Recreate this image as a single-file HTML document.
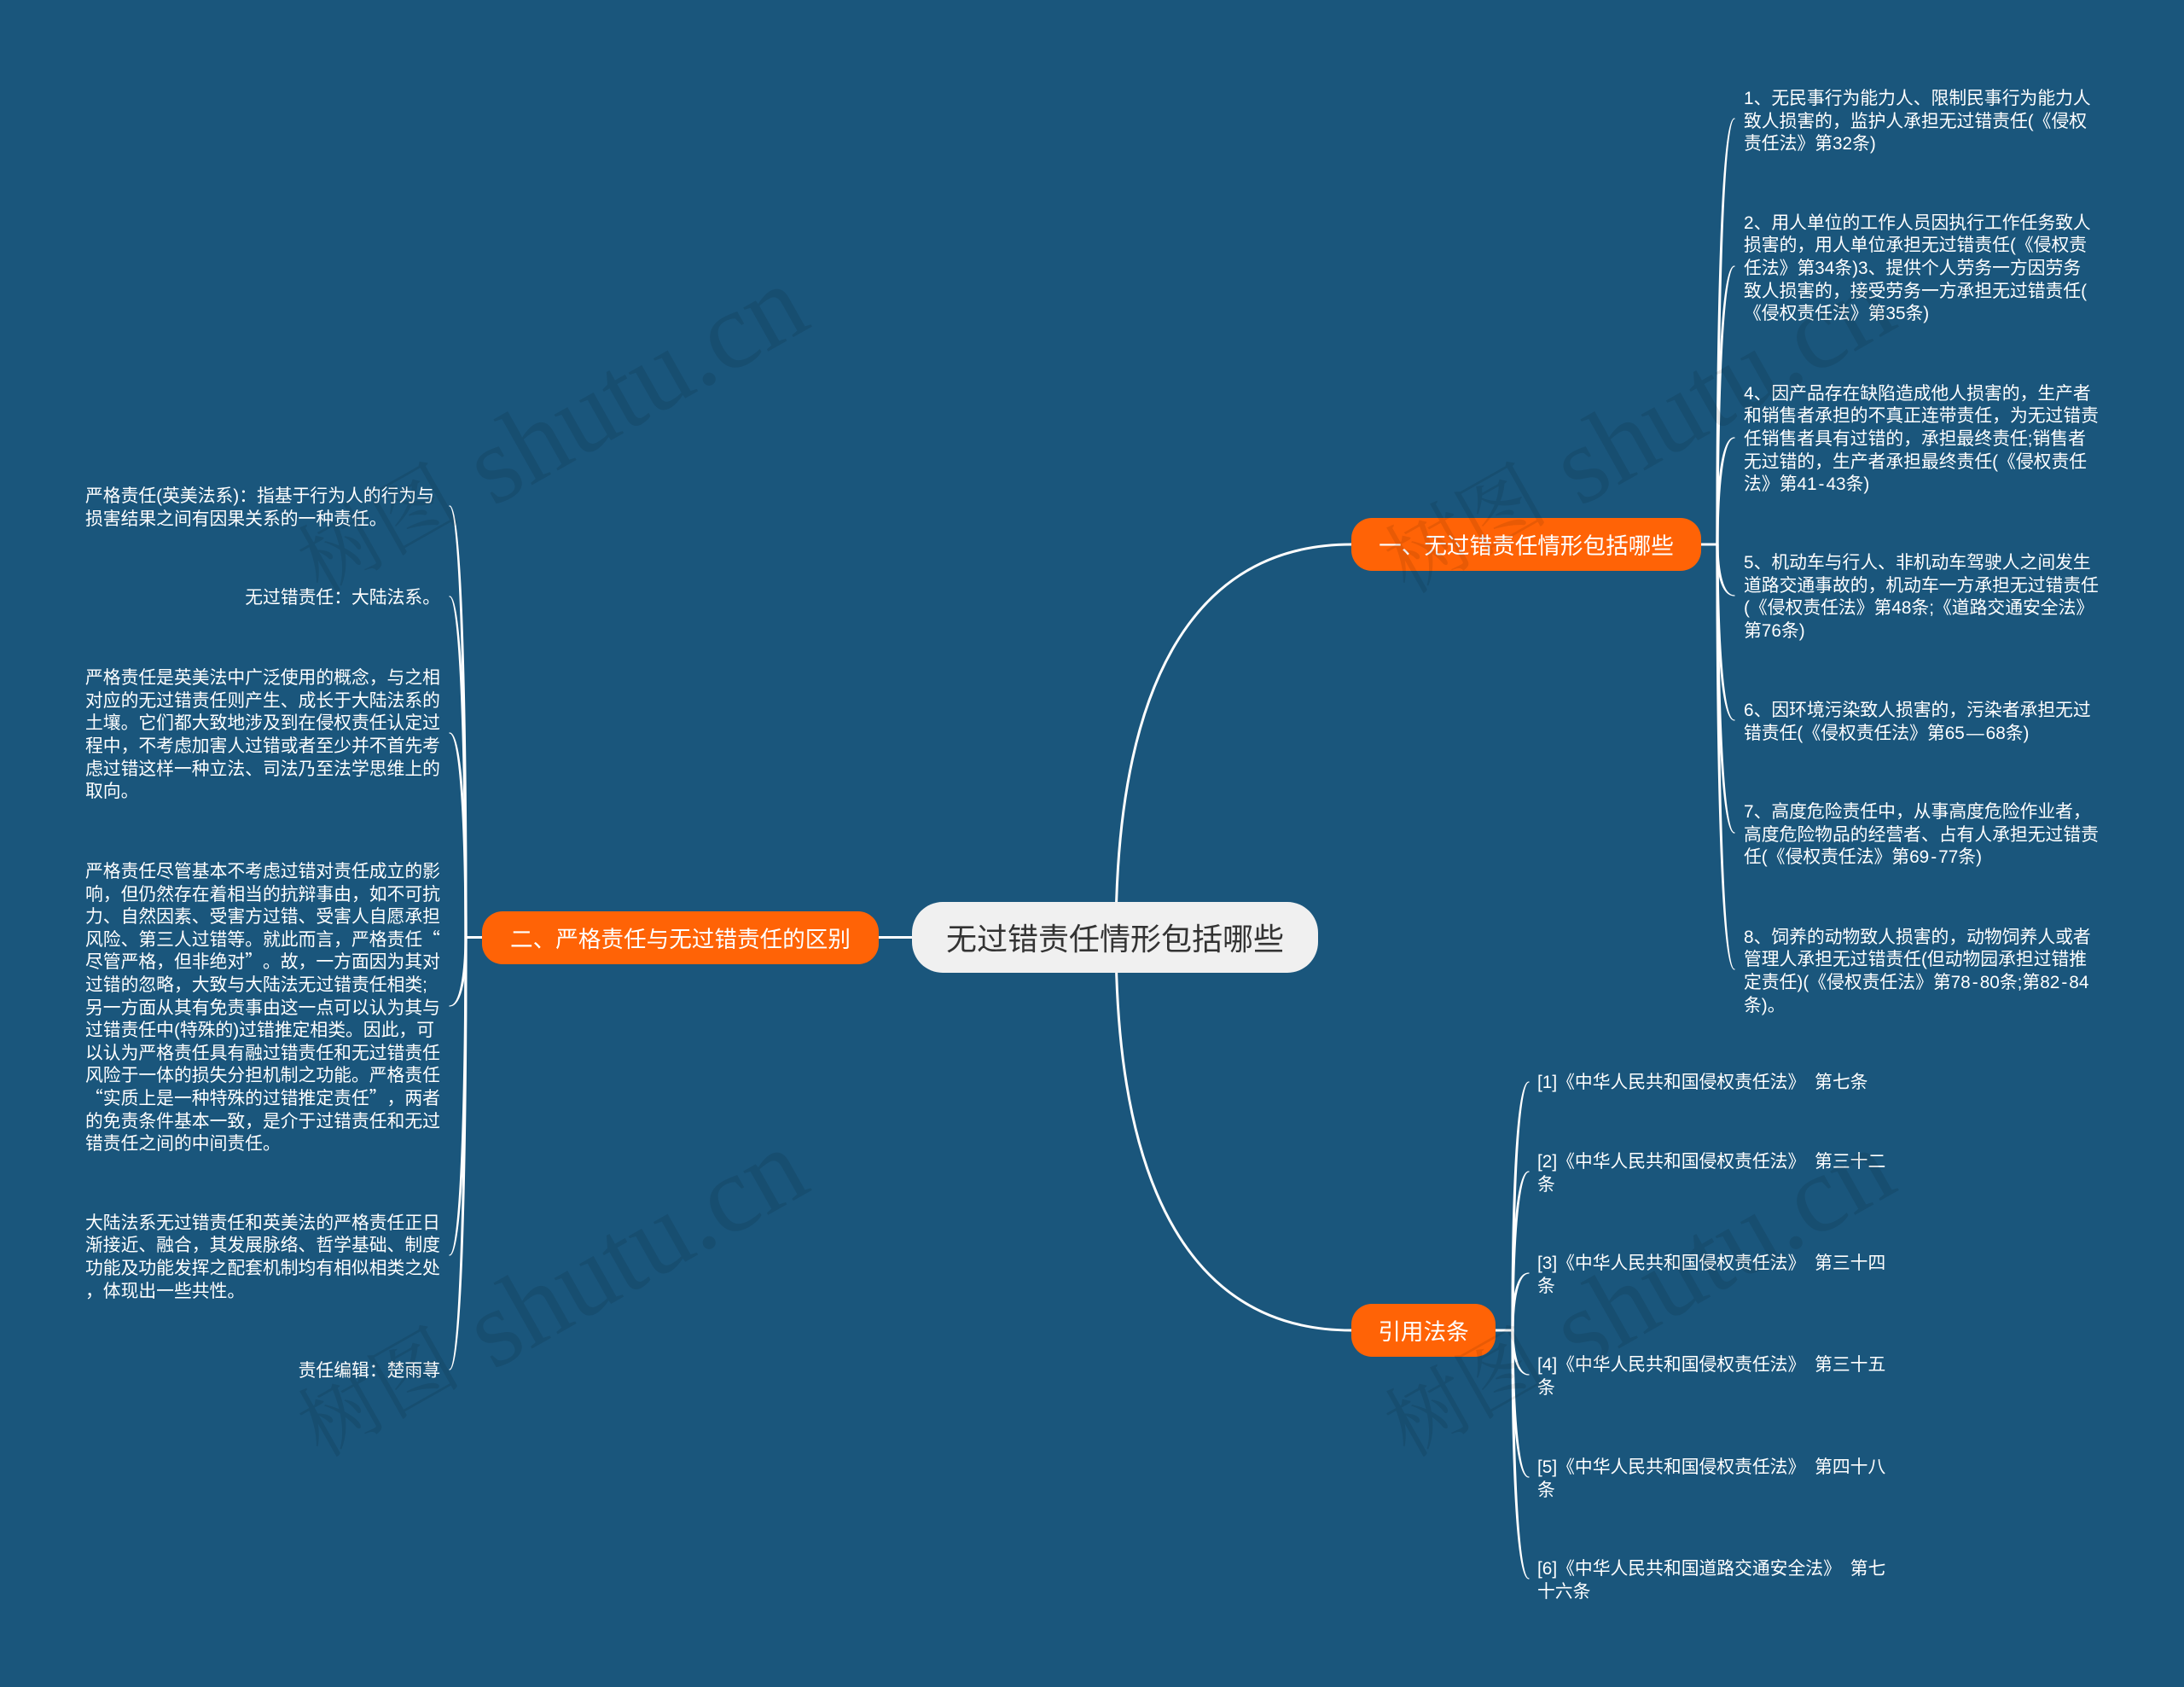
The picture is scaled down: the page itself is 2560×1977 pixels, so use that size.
<!DOCTYPE html>
<html lang="zh-CN">
<head>
<meta charset="utf-8">
<title>无过错责任情形包括哪些</title>
<style>
html,body{margin:0;padding:0;background:#1a567c;}
#c{position:relative;width:2560px;height:1977px;overflow:hidden;background:#1a567c;font-family:"Liberation Sans","Noto Sans CJK SC",sans-serif;text-spacing-trim:space-all;}
svg{position:absolute;left:0;top:0;}
.t{position:absolute;color:#fff;font-size:20.8px;line-height:26.6px;white-space:nowrap;margin-top:3px;}
.q{font-family:"Noto Sans CJK SC",sans-serif;line-height:0;}
.h{padding:0 2px;}
.l{left:100px;width:416px;}
.r{left:100px;width:416px;text-align:right;}
.g{left:2044px;}
.f{left:1802px;word-spacing:5px;}
.n{position:absolute;display:flex;align-items:center;justify-content:center;white-space:nowrap;color:#fff;background:#ff6306;font-size:26.6px;height:62px;border-radius:24px;box-sizing:border-box;padding-bottom:2px;}
.m{position:absolute;left:1069px;top:1057px;width:476px;height:83px;border-radius:36px;background:#f0f0f0;color:#333;font-size:36px;display:flex;align-items:center;justify-content:center;white-space:nowrap;box-sizing:border-box;padding-bottom:2px;}
.wm text{font-family:"Liberation Serif","Noto Serif CJK SC",serif;fill:rgba(0,0,0,.09);}
</style>
</head>
<body>
<div id="c">
<svg width="2560" height="1977" viewBox="0 0 2560 1977" fill="none">
<g stroke="#fff" stroke-width="3">
<path d="M1308 1098C1308 800 1400 638 1584 638"/>
<path d="M1308 1098C1308 1397 1400 1559 1584 1559"/>
<path d="M1030 1098.500H1069"/>
<path d="M1994 638H2013"/>
<path d="M1753 1559H1773"/>
<path d="M546 1098.500H565"/>
</g>
<g fill="#fff" stroke="#fff" stroke-width="1.200" stroke-linejoin="round">
<path d="M2012 638C2012 388 2017 139 2033 139C2019 139 2014 388 2014 638Z"/>
<path d="M2012 638C2012 475 2017 312 2033 312C2019 312 2014 475 2014 638Z"/>
<path d="M2012 638C2012 575 2017 513 2033 513C2019 513 2014 575 2014 638Z"/>
<path d="M2012 638C2012 668 2017 698 2033 698C2019 698 2014 668 2014 638Z"/>
<path d="M2012 638C2012 741 2017 844 2033 844C2019 844 2014 741 2014 638Z"/>
<path d="M2012 638C2012 807 2017 976 2033 976C2019 976 2014 807 2014 638Z"/>
<path d="M2012 638C2012 887 2017 1136 2033 1136C2019 1136 2014 887 2014 638Z"/>

<path d="M1772 1559C1772 1413 1777 1268 1792 1268C1779 1268 1774 1413 1774 1559Z"/>
<path d="M1772 1559C1772 1466 1777 1373 1792 1373C1779 1373 1774 1466 1774 1559Z"/>
<path d="M1772 1559C1772 1525 1777 1492 1792 1492C1779 1492 1774 1525 1774 1559Z"/>
<path d="M1772 1559C1772 1585 1777 1611 1792 1611C1779 1611 1774 1585 1774 1559Z"/>
<path d="M1772 1559C1772 1645 1777 1731 1792 1731C1779 1731 1774 1645 1774 1559Z"/>
<path d="M1772 1559C1772 1704 1777 1850 1792 1850C1779 1850 1774 1704 1774 1559Z"/>

<path d="M547 1098C547 845 542 593 527 593C540 593 545 845 545 1098Z"/>
<path d="M547 1098C547 898 542 699 527 699C540 699 545 898 545 1098Z"/>
<path d="M547 1098C547 978 542 859 527 859C540 859 545 978 545 1098Z"/>
<path d="M547 1098C547 1138 542 1179 527 1179C540 1179 545 1138 545 1098Z"/>
<path d="M547 1098C547 1284 542 1471 527 1471C540 1471 545 1284 545 1098Z"/>
<path d="M547 1098C547 1351 542 1605 527 1605C540 1605 545 1351 545 1098Z"/>
</g>
</svg>

<div class="m">无过错责任情形包括哪些</div>
<div class="n" style="left:1584px;top:607px;width:410px;">一、无过错责任情形包括哪些</div>
<div class="n" style="left:565px;top:1068px;width:465px;">二、严格责任与无过错责任的区别</div>
<div class="n" style="left:1584px;top:1528px;width:169px;">引用法条</div>

<div class="t g" style="top:100.100px">1、无民事行为能力人、限制民事行为能力人<br>致人损害的，监护人承担无过错责任(《侵权<br>责任法》第32条)</div>
<div class="t g" style="top:245.800px">2、用人单位的工作人员因执行工作任务致人<br>损害的，用人单位承担无过错责任(《侵权责<br>任法》第34条)3、提供个人劳务一方因劳务<br>致人损害的，接受劳务一方承担无过错责任(<br>《侵权责任法》第35条)</div>
<div class="t g" style="top:445.800px">4、因产品存在缺陷造成他人损害的，生产者<br>和销售者承担的不真正连带责任，为无过错责<br>任销售者具有过错的，承担最终责任;销售者<br>无过错的，生产者承担最终责任(《侵权责任<br>法》第41<span class="h">-</span>43条)</div>
<div class="t g" style="top:644.100px">5、机动车与行人、非机动车驾驶人之间发生<br>道路交通事故的，机动车一方承担无过错责任<br>(《侵权责任法》第48条;《道路交通安全法》<br>第76条)</div>
<div class="t g" style="top:817.400px">6、因环境污染致人损害的，污染者承担无过<br>错责任(《侵权责任法》第65<span class="h">—</span>68条)</div>
<div class="t g" style="top:936.100px">7、高度危险责任中，从事高度危险作业者，<br>高度危险物品的经营者、占有人承担无过错责<br>任(《侵权责任法》第69<span class="h">-</span>77条)</div>
<div class="t g" style="top:1082.800px">8、饲养的动物致人损害的，动物饲养人或者<br>管理人承担无过错责任(但动物园承担过错推<br>定责任)(《侵权责任法》第78<span class="h">-</span>80条;第82<span class="h">-</span>84<br>条)。</div>

<div class="t f" style="top:1253.200px">[1]《中华人民共和国侵权责任法》 第七条</div>
<div class="t f" style="top:1346.400px">[2]《中华人民共和国侵权责任法》 第三十二<br>条</div>
<div class="t f" style="top:1465.400px">[3]《中华人民共和国侵权责任法》 第三十四<br>条</div>
<div class="t f" style="top:1584.400px">[4]《中华人民共和国侵权责任法》 第三十五<br>条</div>
<div class="t f" style="top:1704.400px">[5]《中华人民共和国侵权责任法》 第四十八<br>条</div>
<div class="t f" style="top:1823.400px">[6]《中华人民共和国道路交通安全法》 第七<br>十六条</div>

<div class="t l" style="top:566.400px">严格责任(英美法系)：指基于行为人的行为与<br>损害结果之间有因果关系的一种责任。</div>
<div class="t r" style="top:685px">无过错责任：大陆法系。</div>
<div class="t l" style="top:779.200px">严格责任是英美法中广泛使用的概念，与之相<br>对应的无过错责任则产生、成长于大陆法系的<br>土壤。它们都大致地涉及到在侵权责任认定过<br>程中，不考虑加害人过错或者至少并不首先考<br>虑过错这样一种立法、司法乃至法学思维上的<br>取向。</div>
<div class="t l" style="top:1006.100px">严格责任尽管基本不考虑过错对责任成立的影<br>响，但仍然存在着相当的抗辩事由，如不可抗<br>力、自然因素、受害方过错、受害人自愿承担<br>风险、第三人过错等。就此而言，严格责任<span class="q">“</span><br>尽管严格，但非绝对<span class="q">”</span>。故，一方面因为其对<br>过错的忽略，大致与大陆法无过错责任相类;<br>另一方面从其有免责事由这一点可以认为其与<br>过错责任中(特殊的)过错推定相类。因此，可<br>以认为严格责任具有融过错责任和无过错责任<br>风险于一体的损失分担机制之功能。严格责任<br><span class="q">“</span>实质上是一种特殊的过错推定责任<span class="q">”</span>，两者<br>的免责条件基本一致，是介于过错责任和无过<br>错责任之间的中间责任。</div>
<div class="t l" style="top:1417.800px">大陆法系无过错责任和英美法的严格责任正日<br>渐接近、融合，其发展脉络、哲学基础、制度<br>功能及功能发挥之配套机制均有相似相类之处<br>，体现出一些共性。</div>
<div class="t r" style="top:1591px">责任编辑：楚雨荨</div>

<svg class="wm" width="2560" height="1977" viewBox="0 0 2560 1977">
<text transform="translate(376 697) rotate(-29.5)"><tspan font-size="96">树图</tspan><tspan font-size="128.500" dx="2" dy="10"> shutu.cn</tspan></text>
<text transform="translate(1650 697) rotate(-29.5)"><tspan font-size="96">树图</tspan><tspan font-size="128.500" dx="2" dy="10"> shutu.cn</tspan></text>
<text transform="translate(376 1709) rotate(-29.5)"><tspan font-size="96">树图</tspan><tspan font-size="128.500" dx="2" dy="10"> shutu.cn</tspan></text>
<text transform="translate(1650 1709) rotate(-29.5)"><tspan font-size="96">树图</tspan><tspan font-size="128.500" dx="2" dy="10"> shutu.cn</tspan></text>
</svg>
</div>
</body>
</html>
